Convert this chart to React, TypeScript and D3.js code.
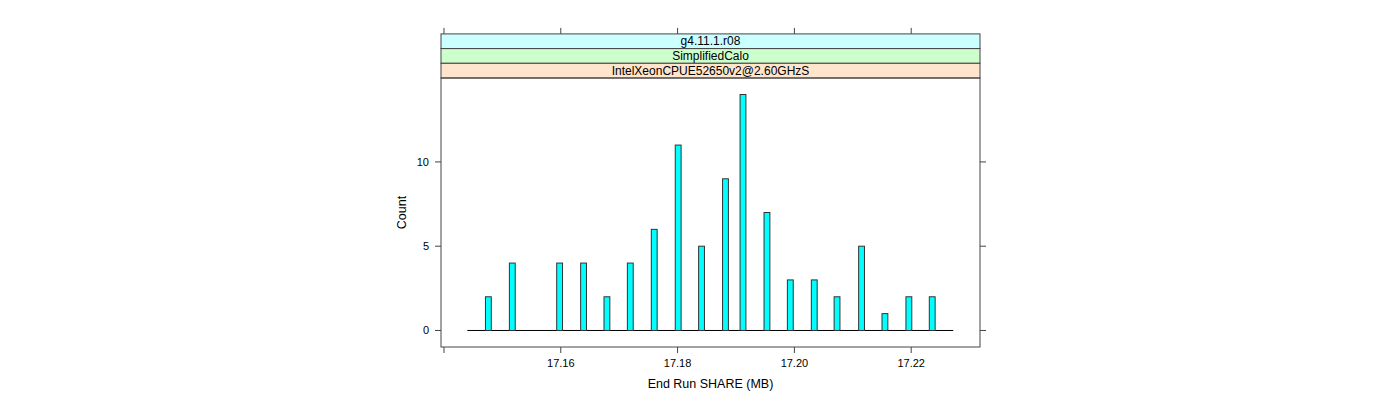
import React from "react";
import * as d3 from "d3";

const shareValues = [17.1476, 17.1517, 17.1598, 17.1639, 17.1679, 17.1719, 17.176, 17.1801, 17.1841, 17.1882, 17.1912, 17.1953, 17.1993, 17.2034, 17.2073, 17.2115, 17.2155, 17.2196, 17.2236];
const counts = [2, 4, 4, 4, 2, 4, 6, 11, 5, 9, 14, 7, 3, 3, 2, 5, 1, 2, 2];
const xTicks = [17.14, 17.16, 17.18, 17.2, 17.22];
const xTickLabels = ["", "17.16", "17.18", "17.20", "17.22"];
const yTicks = [0, 5, 10];
const stripLabels = ["g4.11.1.r08", "SimplifiedCalo", "IntelXeonCPUE52650v2@2.60GHzS"];
const stripColors = ["#ccffff", "#ccffcc", "#ffe5cc"];
const baselineRange = [17.144, 17.2272];
const xDomain = [17.13949, 17.23178];
const yDomain = [-0.98, 14.98];
const barWidthMB = 0.001;

export default function App() {
  const W = 1400, H = 400;
  const left = 441, right = 980, top = 78, bottom = 347;
  const stripH = 14.7;
  const stripTop = top - stripH * 3;
  const x = d3.scaleLinear().domain(xDomain).range([left, right]);
  const y = d3.scaleLinear().domain(yDomain).range([bottom, top]);
  const font = "'Liberation Sans', Arial, sans-serif";
  const axisCol = "#444";
  return (
    <svg width={W} height={H} style={{ position: "absolute", left: 0, top: 0 }} fontFamily={font}>
      {stripLabels.map((s, i) => {
        const yy = stripTop + i * stripH;
        return (
          <g key={s}>
            <rect x={left} y={yy} width={right - left} height={stripH} fill={stripColors[i]} stroke={axisCol} strokeWidth={1} />
            <text x={(left + right) / 2} y={yy + stripH / 2 + 4} textAnchor="middle" fontSize={12} fill="#000">{s}</text>
          </g>
        );
      })}
      <rect x={left} y={top} width={right - left} height={bottom - top} fill="none" stroke={axisCol} strokeWidth={1} />
      <line x1={x(baselineRange[0])} x2={x(baselineRange[1])} y1={y(0)} y2={y(0)} stroke="#000" strokeWidth={1} />
      {shareValues.map((v, i) => (
        <rect key={i} x={x(v - barWidthMB / 2)} y={y(counts[i])} width={x(v + barWidthMB / 2) - x(v - barWidthMB / 2)} height={y(0) - y(counts[i])} fill="#00ffff" stroke="#333" strokeWidth={1} />
      ))}
      {xTicks.map((t, i) => (
        <g key={t}>
          <line x1={x(t)} x2={x(t)} y1={bottom} y2={bottom + 6} stroke={axisCol} />
          <line x1={x(t)} x2={x(t)} y1={stripTop} y2={stripTop - 6} stroke={axisCol} />
          <text x={x(t)} y={bottom + 20} textAnchor="middle" fontSize={11}>{xTickLabels[i]}</text>
        </g>
      ))}
      {yTicks.map((t) => (
        <g key={t}>
          <line x1={left} x2={left - 6} y1={y(t)} y2={y(t)} stroke={axisCol} />
          <line x1={right} x2={right + 6} y1={y(t)} y2={y(t)} stroke={axisCol} />
          <text x={left - 12} y={y(t) + 4} textAnchor="end" fontSize={11}>{t}</text>
        </g>
      ))}
      <text x={(left + right) / 2} y={388} textAnchor="middle" fontSize={12.5}>End Run SHARE (MB)</text>
      <text transform={`translate(406,${(top + bottom) / 2}) rotate(-90)`} textAnchor="middle" fontSize={12.5}>Count</text>
    </svg>
  );
}
